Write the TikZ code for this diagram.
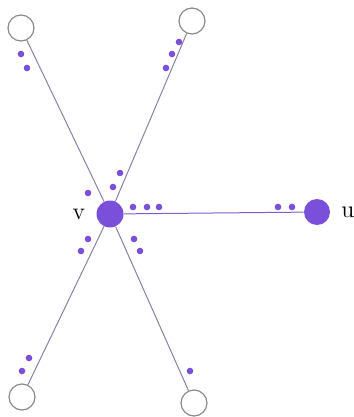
\documentclass[tikz,border=0pt]{standalone}
\usepackage{xcolor}
\usetikzlibrary{positioning}
\definecolor{vpurple}{HTML}{7A4FD9}
\definecolor{edgegray}{HTML}{8C80A8}
\definecolor{ringgray}{HTML}{8A8A8A}

\begin{document}
\begin{tikzpicture}[x=0.5pt, y=-0.5pt,
    leaf/.style={circle, draw=ringgray, line width=0.6pt, fill=white,
                 minimum size=13pt, inner sep=0pt},
    hub/.style={circle, fill=vpurple, minimum size=13.5pt, inner sep=0pt},
    edge/.style={draw=edgegray, line width=0.5pt},
    elide/.style={fill=vpurple}]
    \useasboundingbox (0,0) rectangle (353,417);
    % vertices
    \node[hub] (v) at (110,214) {};
    \node[hub, minimum size=13pt] (u) at (317,212) {};
    \node[leaf] (tl) at (21,28) {};
    \node[leaf] (tr) at (192,21) {};
    \node[leaf] (bl) at (22,397) {};
    \node[leaf] (br) at (194,403) {};
    \node[left=2pt of v, font=\large] (vlabel) {v};
    \node[right=2pt of u, font=\large] (ulabel) {u};
    % edges
    \draw[edge] (v) -- (tl);
    \draw[edge] (v) -- (tr);
    \draw[edge] (v) -- (bl);
    \draw[edge] (v) -- (br);
    \draw[edge, draw=vpurple!70!edgegray] (v) -- (u);
    % elided edges
    \foreach \p in {(21,54),(27,68),(179,42),(172,54),(166,68),
                    (120,173),(113,187),(88,193),
                    (133,207),(147,207),(159,207),(278,207),(292,207),
                    (88,239),(81,251),(134,239),(140,251),
                    (29,358),(22,371),(190,371)}
      \fill[elide] \p circle (3.3);
\end{tikzpicture}
\end{document}
